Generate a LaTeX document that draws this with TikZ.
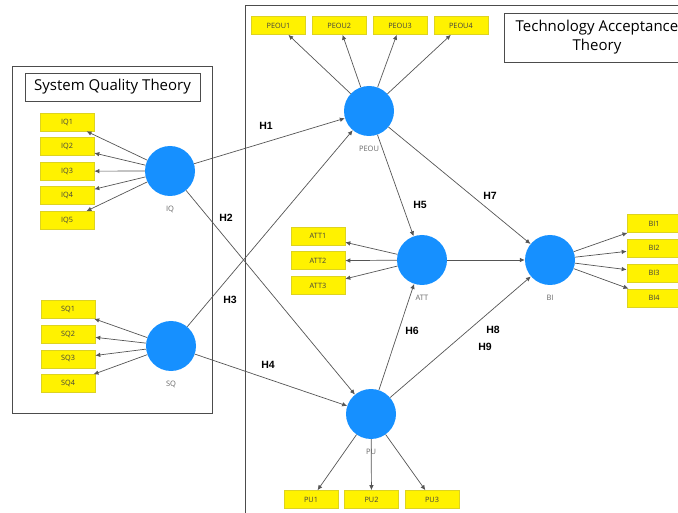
\documentclass[tikz,border=0pt]{standalone}
\usepackage{fontspec}
\setmainfont{Open Sans}
\newfontfamily\hfont{Liberation Sans}
\usetikzlibrary{arrows.meta}

\definecolor{latblue}{RGB}{22,144,255}
\definecolor{linegray}{RGB}{85,85,85}

\tikzstyle{latent} = [circle, fill=latblue, minimum size=50pt, inner sep=0pt]
\tikzstyle{indicator} = [rectangle, fill=yellow, draw=yellow!85!black, line width=0.6pt, minimum width=54pt, minimum height=18pt, inner sep=0pt, font=\fontsize{7.3}{8}\selectfont, text=black!75]
\tikzstyle{line} = [draw=linegray, line width=0.7pt, -{Latex[length=5pt,width=4.5pt]}]
\tikzstyle{hyp} = [font=\hfont\bfseries\fontsize{10.5}{12}\selectfont]
\tikzstyle{latlabel} = [font=\fontsize{7.5}{9}\selectfont, text=black!60]
\tikzstyle{theory} = [draw=black!70, line width=0.8pt]
\tikzstyle{title} = [theory, font=\fontsize{15}{19}\selectfont, align=center, inner sep=0pt]

\begin{document}
\begin{tikzpicture}[x=1pt,y=-1pt]
		\useasboundingbox (0,0) rectangle (678,513);
		
		%theory boxes
		\draw[theory] (12,66) rectangle (212,413);
		\draw[theory] (245,520) -- (245,5) -- (690,5);
		\node[title, minimum width=175pt, minimum height=28pt] (sqt) at (112.5,87) {System Quality Theory};
		\node[title, minimum width=186pt, minimum height=49pt] (tat) at (597,37.5) {Technology Acceptance\\Theory};
		
		%latent variables
		\node[latent] (IQ) at (170,171) {};
		\node[latent] (SQ) at (171,346) {};
		\node[latent] (PEOU) at (369,111) {};
		\node[latent] (ATT) at (422,260) {};
		\node[latent] (BI) at (550,260) {};
		\node[latent] (PU) at (371,414) {};
		\node[latlabel] (IQl) at (170,209) {IQ};
		\node[latlabel] (SQl) at (171,384) {SQ};
		\node[latlabel] (PEOUl) at (369,149) {PEOU};
		\node[latlabel] (ATTl) at (422,298) {ATT};
		\node[latlabel] (BIl) at (550,298) {BI};
		\node[latlabel] (PUl) at (371,452) {PU};
		
		%indicators
		\foreach \i in {1,...,5} \node[indicator] (IQ\i) at (67,{122+24.6*(\i-1)}) {IQ\i};
		\foreach \i in {1,...,4} \node[indicator] (SQ\i) at (68,{309.5+24.7*(\i-1)}) {SQ\i};
		\foreach \i in {1,...,4} \node[indicator] (PEOU\i) at ({278.5+60.8*(\i-1)},25.5) {PEOU\i};
		\foreach \i in {1,...,3} \node[indicator] (ATT\i) at (318,{236+24.8*(\i-1)}) {ATT\i};
		\foreach \i in {1,...,4} \node[indicator] (BI\i) at (654,{223.5+24.8*(\i-1)}) {BI\i};
		\foreach \i in {1,...,3} \node[indicator] (PU\i) at ({311+60.5*(\i-1)},499.5) {PU\i};
		
		%outer loadings
		\foreach \i in {1,...,5} \draw[line] (IQ) -- (IQ\i);
		\foreach \i in {1,...,4} \draw[line] (SQ) -- (SQ\i);
		\foreach \i in {1,...,4} \draw[line] (PEOU) -- (PEOU\i);
		\foreach \i in {1,...,3} \draw[line] (ATT) -- (ATT\i);
		\foreach \i in {1,...,4} \draw[line] (BI) -- (BI\i);
		\foreach \i in {1,...,3} \draw[line] (PU) -- (PU\i);
		
		%paths
		\draw[line] (IQ) -- (PEOU);
		\draw[line] (IQ) -- (PU);
		\draw[line] (SQ) -- (PEOU);
		\draw[line] (SQ) -- (PU);
		\draw[line] (PEOU) -- (ATT);
		\draw[line] (PEOU) -- (BI);
		\draw[line] (PU) -- (ATT);
		\draw[line] (PU) -- (BI);
		\draw[line] (ATT) -- (BI);
		
		%hypotheses
		\node[hyp] (H1) at (266,126) {H1};
		\node[hyp] (H2) at (226,218) {H2};
		\node[hyp] (H3) at (230,300) {H3};
		\node[hyp] (H4) at (268,365) {H4};
		\node[hyp] (H5) at (420,205) {H5};
		\node[hyp] (H6) at (412,331) {H6};
		\node[hyp] (H7) at (490,196) {H7};
		\node[hyp] (H8) at (493,330) {H8};
		\node[hyp] (H9) at (485,347) {H9};
\end{tikzpicture}
\end{document}
